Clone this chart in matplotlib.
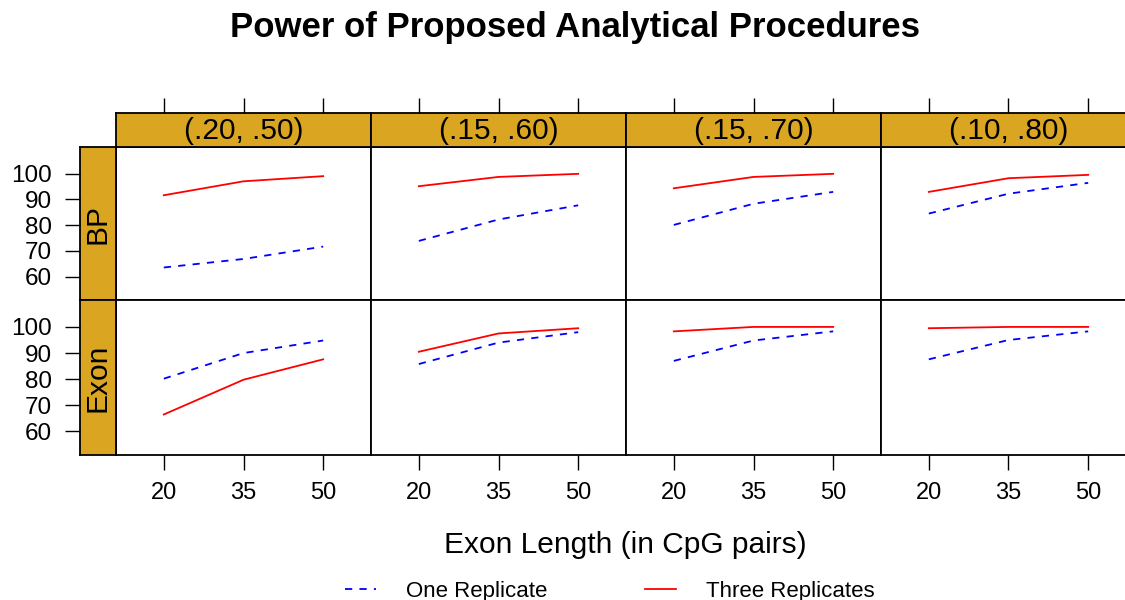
import numpy as np
import matplotlib
matplotlib.use("Agg")
import matplotlib.pyplot as plt
from matplotlib.lines import Line2D

plt.rcParams['font.family'] = ['Liberation Sans', 'DejaVu Sans']

# data
lengths = [20, 35, 50]
settings = ["(.20, .50)", "(.15, .60)", "(.15, .70)", "(.10, .80)"]
methods = ["BP", "Exon"]

one_bp = [[63.6, 66.9, 71.7], [73.9, 82.2, 87.7], [80.1, 88.3, 92.9], [84.5, 92.2, 96.4]]
three_bp = [[91.6, 97.0, 99.0], [95.1, 98.7, 99.9], [94.3, 98.7, 99.9], [92.9, 98.2, 99.5]]
one_exon = [[80.2, 90.0, 94.8], [85.8, 94.0, 98.0], [87.0, 94.8, 98.3], [87.6, 95.0, 98.3]]
three_exon = [[66.5, 79.8, 87.6], [90.5, 97.5, 99.5], [98.3, 100.0, 100.0], [99.5, 100.0, 100.0]]

yticks = [60, 70, 80, 90, 100]
strip_col = "#DAA520"

W, H = 1125, 600
fig = plt.figure(figsize=(W / 100, H / 100), dpi=100)

def box(x0, y0, x1, y1):
    # pixel box (top-left origin) -> figure fraction
    return [x0 / W, 1 - y1 / H, (x1 - x0) / W, (y1 - y0) / H]

xlim = (11, 59)
ylim = (51, 110.3)
left = 116
pw = 255
rows = [(147, 300), (300, 455)]
tick_len = 10.5

one = [one_bp, one_exon]
three = [three_bp, three_exon]

for r, (y0, y1) in enumerate(rows):
    for c in range(4):
        x0 = left + c * pw
        ax = fig.add_axes(box(x0, y0, x0 + pw, y1))
        ax.plot(lengths, one[r][c], color="blue", lw=1.3, dashes=(4, 4))
        ax.plot(lengths, three[r][c], color="red", lw=1.3)
        ax.set_xlim(xlim)
        ax.set_ylim(ylim)
        ax.set_yticks([])
        for s in ax.spines.values():
            s.set_linewidth(1.3)
        if r == 1:
            ax.set_xticks(lengths)
            ax.tick_params(axis="x", direction="out", length=tick_len, width=1,
                           labelsize=17, pad=9)
        else:
            ax.set_xticks([])
        if r == 0:
            st = fig.add_axes(box(x0, 113, x0 + pw, 147))
            st.set_facecolor(strip_col)
            st.set_xlim(xlim)
            st.set_ylim(0, 1)
            st.set_yticks([])
            st.set_xticks(lengths)
            st.tick_params(axis="x", bottom=False, labelbottom=False, top=True,
                           direction="out", length=tick_len, width=1)
            st.text(0.5, 0.47, settings[c], transform=st.transAxes, ha="center",
                    va="center", fontsize=21.5)
            for s in st.spines.values():
                s.set_linewidth(1.3)
    ls = fig.add_axes(box(80, y0, 116, y1))
    ls.set_facecolor(strip_col)
    ls.set_xlim(0, 1)
    ls.set_ylim(ylim)
    ls.set_xticks([])
    ls.set_yticks(yticks)
    ls.tick_params(axis="y", direction="out", length=tick_len, width=1,
                   labelsize=17.5, pad=10)
    ls.text(0.5, 0.5, methods[r], transform=ls.transAxes, rotation=90,
            ha="center", va="center", fontsize=21.5)
    for s in ls.spines.values():
        s.set_linewidth(1.3)

fig.text(575 / W, 1 - 27 / H, "Power of Proposed Analytical Procedures",
         ha="center", va="center", fontsize=25, fontweight="bold")
fig.text(625 / W, 1 - 545 / H, "Exon Length (in CpG pairs)",
         ha="center", va="center", fontsize=21.5)

handles = [Line2D([], [], color="blue", lw=1.3, dashes=(4, 4)),
           Line2D([], [], color="red", lw=1.3)]
fig.legend(handles, ["One Replicate", "Three Replicates"], loc="center",
           bbox_to_anchor=(610 / W, 1 - 591 / H), ncol=2, frameon=False,
           fontsize=16, handlelength=1.4, handletextpad=1.35, columnspacing=4.4)

fig.savefig("out.png", dpi=100)
